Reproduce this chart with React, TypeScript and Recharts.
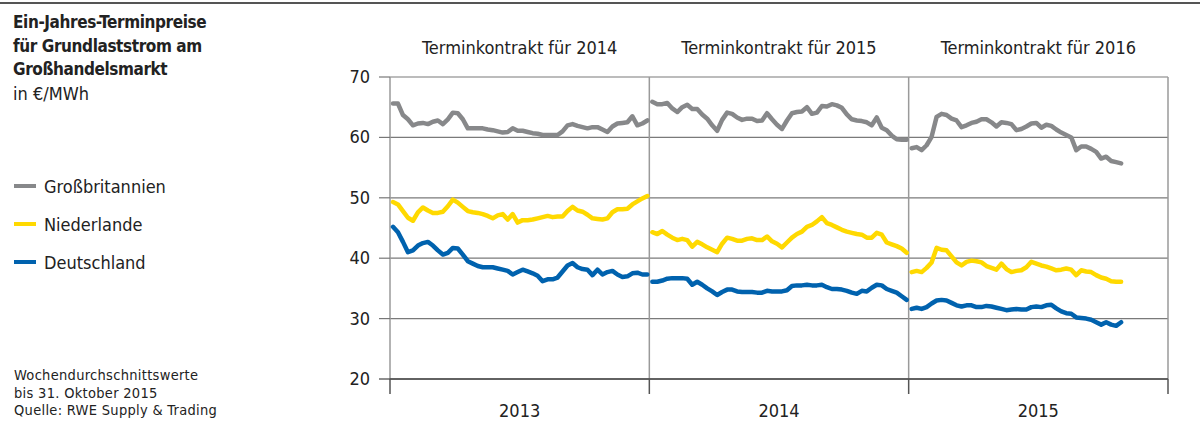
import React from "react";
import { LineChart, Line, XAxis, YAxis, CartesianGrid, ReferenceLine } from "recharts";

// Weekly averages, €/MWh
const years = ["2013", "2014", "2015"];
const contracts = ["Terminkontrakt für 2014", "Terminkontrakt für 2015", "Terminkontrakt für 2016"];
const yTicks = [20, 30, 40, 50, 60, 70];

const gb2013 = [65.6, 65.6, 63.7, 63.0, 62.0, 62.3, 62.4, 62.2, 62.6, 62.8, 62.2, 63.0, 64.1, 64.0, 63.0, 61.5, 61.5, 61.5, 61.5, 61.3, 61.2, 61.0, 60.8, 60.9, 61.5, 61.1, 61.1, 60.9, 60.7, 60.6, 60.4, 60.4, 60.4, 60.4, 61.0, 62.0, 62.2, 61.9, 61.7, 61.5, 61.7, 61.7, 61.3, 60.9, 61.8, 62.3, 62.4, 62.5, 63.5, 62.0, 62.3, 62.8];
const gb2014 = [65.9, 65.5, 65.5, 65.7, 64.8, 64.2, 65.0, 65.4, 64.7, 64.7, 63.8, 63.1, 62.0, 61.1, 62.9, 64.1, 63.9, 63.3, 62.9, 63.1, 63.1, 62.7, 62.8, 64.0, 63.0, 62.1, 61.4, 62.8, 64.0, 64.2, 64.3, 65.0, 63.9, 64.1, 65.2, 65.1, 65.5, 65.3, 64.9, 63.8, 63.0, 62.8, 62.7, 62.5, 62.0, 63.3, 61.6, 61.2, 60.3, 59.7, 59.6, 59.6];
const gb2015 = [58.2, 58.4, 57.9, 58.7, 60.1, 63.4, 63.9, 63.7, 63.1, 62.8, 61.7, 62.0, 62.4, 62.6, 63.0, 63.0, 62.5, 61.8, 62.5, 62.4, 62.2, 61.2, 61.4, 61.8, 62.3, 62.4, 61.6, 62.1, 61.9, 61.3, 60.8, 60.4, 60.0, 57.9, 58.5, 58.5, 58.1, 57.6, 56.5, 56.8, 56.1, 55.9, 55.7];

const nl2013 = [49.3, 48.9, 47.8, 46.7, 46.2, 47.6, 48.4, 47.9, 47.5, 47.5, 47.7, 48.6, 49.7, 49.2, 48.5, 47.8, 47.6, 47.5, 47.3, 47.0, 46.6, 47.1, 47.3, 46.4, 47.3, 45.9, 46.3, 46.3, 46.4, 46.6, 46.8, 47.0, 46.8, 46.9, 46.9, 47.8, 48.5, 47.9, 47.7, 47.2, 46.6, 46.5, 46.4, 46.6, 47.6, 48.1, 48.1, 48.2, 48.9, 49.4, 49.9, 50.3];
const nl2014 = [44.3, 44.0, 44.5, 43.9, 43.4, 43.0, 43.2, 43.0, 41.9, 42.7, 42.3, 41.8, 41.4, 41.0, 42.4, 43.4, 43.2, 42.9, 42.9, 43.2, 43.3, 43.0, 43.0, 43.6, 42.8, 42.4, 41.8, 42.6, 43.4, 44.0, 44.4, 45.2, 45.5, 46.1, 46.8, 45.8, 45.5, 45.1, 44.7, 44.4, 44.2, 44.0, 43.9, 43.4, 43.4, 44.2, 43.9, 42.6, 42.3, 42.0, 41.6, 40.9];
const nl2015 = [37.7, 37.9, 37.7, 38.4, 39.3, 41.7, 41.4, 41.3, 40.3, 39.3, 38.8, 39.4, 39.6, 39.5, 39.3, 38.7, 38.4, 38.1, 39.1, 38.2, 37.7, 37.9, 38.0, 38.5, 39.4, 39.1, 38.8, 38.6, 38.3, 38.0, 38.1, 38.3, 38.1, 37.2, 38.0, 37.8, 37.7, 37.2, 36.8, 36.6, 36.2, 36.1, 36.1];

const de2013 = [45.2, 44.3, 42.7, 41.0, 41.3, 42.1, 42.5, 42.7, 42.1, 41.3, 40.6, 40.9, 41.7, 41.6, 40.6, 39.5, 39.1, 38.7, 38.5, 38.5, 38.5, 38.3, 38.1, 37.9, 37.3, 37.7, 38.1, 37.8, 37.5, 37.1, 36.2, 36.5, 36.5, 36.8, 37.8, 38.8, 39.2, 38.5, 38.2, 38.1, 37.2, 38.1, 37.3, 37.7, 37.9, 37.3, 36.9, 37.0, 37.5, 37.6, 37.3, 37.3];
const de2014 = [36.1, 36.1, 36.3, 36.6, 36.7, 36.7, 36.7, 36.6, 35.6, 36.1, 35.6, 35.0, 34.5, 33.9, 34.4, 34.8, 34.8, 34.5, 34.4, 34.4, 34.4, 34.3, 34.3, 34.6, 34.5, 34.5, 34.5, 34.7, 35.4, 35.5, 35.5, 35.6, 35.5, 35.5, 35.6, 35.2, 34.9, 34.9, 34.8, 34.6, 34.3, 34.1, 34.6, 34.5, 35.1, 35.6, 35.5, 34.9, 34.6, 34.3, 33.7, 33.1];
const de2015 = [31.6, 31.8, 31.6, 31.9, 32.5, 33.0, 33.1, 33.0, 32.6, 32.2, 32.0, 32.2, 32.2, 31.9, 31.9, 32.1, 32.0, 31.8, 31.6, 31.4, 31.5, 31.6, 31.5, 31.5, 31.9, 32.0, 31.9, 32.2, 32.3, 31.7, 31.2, 30.9, 30.8, 30.2, 30.1, 30.0, 29.8, 29.4, 29.0, 29.4, 29.0, 28.8, 29.4];

const gbByYear = [gb2013, gb2014, gb2015];
const nlByYear = [nl2013, nl2014, nl2015];
const deByYear = [de2013, de2014, de2015];

const series = [
  { key: "gb", name: "Großbritannien", color: "#87888a" },
  { key: "nl", name: "Niederlande", color: "#ffd900" },
  { key: "de", name: "Deutschland", color: "#0062ae" },
];

const WEEKS = 52;

type Row = { x: number; gb: number | null; nl: number | null; de: number | null };

const data: Row[] = [];
years.forEach((_, k) => {
  gbByYear[k].forEach((v, i) => {
    data.push({ x: k * WEEKS + 0.6 + i, gb: v, nl: nlByYear[k][i], de: deByYear[k][i] });
  });
  data.push({ x: k * WEEKS + WEEKS, gb: null, nl: null, de: null });
});

const FONT = "'Liberation Sans Narrow', 'DejaVu Sans Condensed', 'Open Sans', sans-serif";
const TEXT = "#222";

const boundaries = [0, 52, 104, 156];
const centers = [26, 78, 130];

const BottomTick = (props: any) => {
  const { x, y, payload } = props;
  const v = payload.value;
  const bi = boundaries.indexOf(v);
  if (bi >= 0) {
    return <line x1={x} x2={x} y1={y} y2={y + 15} stroke="#555" strokeWidth={1.5} />;
  }
  const ci = centers.indexOf(v);
  return (
    <text x={x} y={y + 38} textAnchor="middle" fontFamily={FONT} fontSize={18} fill={TEXT}>
      {years[ci]}
    </text>
  );
};

const TopTick = (props: any) => {
  const { x, y, payload } = props;
  const ci = centers.indexOf(payload.value);
  return (
    <text x={x} y={y - 23} textAnchor="middle" fontFamily={FONT} fontSize={18} fill={TEXT}>
      {contracts[ci]}
    </text>
  );
};

const LeftTick = (props: any) => {
  const { y, payload } = props;
  return (
    <g>
      <line x1={379} x2={390} y1={y} y2={y} stroke={payload.value === 20 ? "#444" : "#777"} strokeWidth={1.2} />
      <text x={370} y={y + 6} textAnchor="end" fontFamily={FONT} fontSize={18} fill={TEXT}>
        {payload.value}
      </text>
    </g>
  );
};

export default function App() {
  return (
    <div style={{ position: "absolute", left: 0, top: 0, width: 1200, height: 428, background: "#fff", fontFamily: FONT, color: TEXT }}>
      <div style={{ position: "absolute", left: 0, top: 2, width: 1200, height: 2, background: "#555" }} />
      <div style={{ position: "absolute", left: 13, top: 11, fontSize: 17, lineHeight: "23.6px", fontWeight: 700, letterSpacing: "-0.4px" }}>
        <div>Ein-Jahres-Terminpreise</div>
        <div>für Grundlaststrom am</div>
        <div>Großhandelsmarkt</div>
        <div style={{ fontWeight: 400, fontSize: 18, letterSpacing: 0 }}>in €/MWh</div>
      </div>
      {series.map((s, i) => (
        <div key={s.key} style={{ position: "absolute", left: 14, top: 186 + i * 38 - 12, height: 24, display: "flex", alignItems: "center", fontSize: 18 }}>
          <div style={{ width: 22, height: 4, background: s.color, marginRight: 8 }} />
          <span>{s.name}</span>
        </div>
      ))}
      <div style={{ position: "absolute", left: 14, top: 367, fontSize: 14.5, lineHeight: "17.5px", letterSpacing: "0.3px" }}>
        <div>Wochendurchschnittswerte</div>
        <div>bis 31. Oktober 2015</div>
        <div>Quelle: RWE Supply &amp; Trading</div>
      </div>
      <div style={{ position: "absolute", left: 0, top: 0 }}>
        <LineChart width={1200} height={428} data={data} margin={{ top: 27, right: 32, bottom: 0, left: 0 }}>
          <CartesianGrid horizontal vertical={false} stroke="#7a7a7a" strokeWidth={1.2} />
          <XAxis
            dataKey="x"
            type="number"
            domain={[0, 156]}
            ticks={[0, 26, 52, 78, 104, 130, 156]}
            tick={<BottomTick />}
            tickLine={false}
            tickSize={0}
            tickMargin={0}
            axisLine={{ stroke: "#444", strokeWidth: 1.5 }}
            height={49}
            interval={0}
          />
          <XAxis
            xAxisId="top"
            dataKey="x"
            type="number"
            orientation="top"
            domain={[0, 156]}
            ticks={centers}
            tick={<TopTick />}
            tickLine={false}
            tickSize={0}
            tickMargin={0}
            axisLine={false}
            height={50}
            interval={0}
          />
          <YAxis
            type="number"
            domain={[20, 70]}
            ticks={yTicks}
            tick={<LeftTick />}
            tickLine={false}
            tickSize={0}
            tickMargin={0}
            axisLine={false}
            width={390}
            interval={0}
          />
          {boundaries.map((b) => (
            <ReferenceLine key={b} x={b} stroke="#9a9a9a" strokeWidth={1.5} />
          ))}
          {series.map((s) => (
            <Line
              key={s.key}
              dataKey={s.key}
              name={s.name}
              stroke={s.color}
              strokeWidth={4.5}
              dot={false}
              isAnimationActive={false}
              connectNulls={false}
              strokeLinejoin="round"
              strokeLinecap="round"
            />
          ))}
        </LineChart>
      </div>
    </div>
  );
}
